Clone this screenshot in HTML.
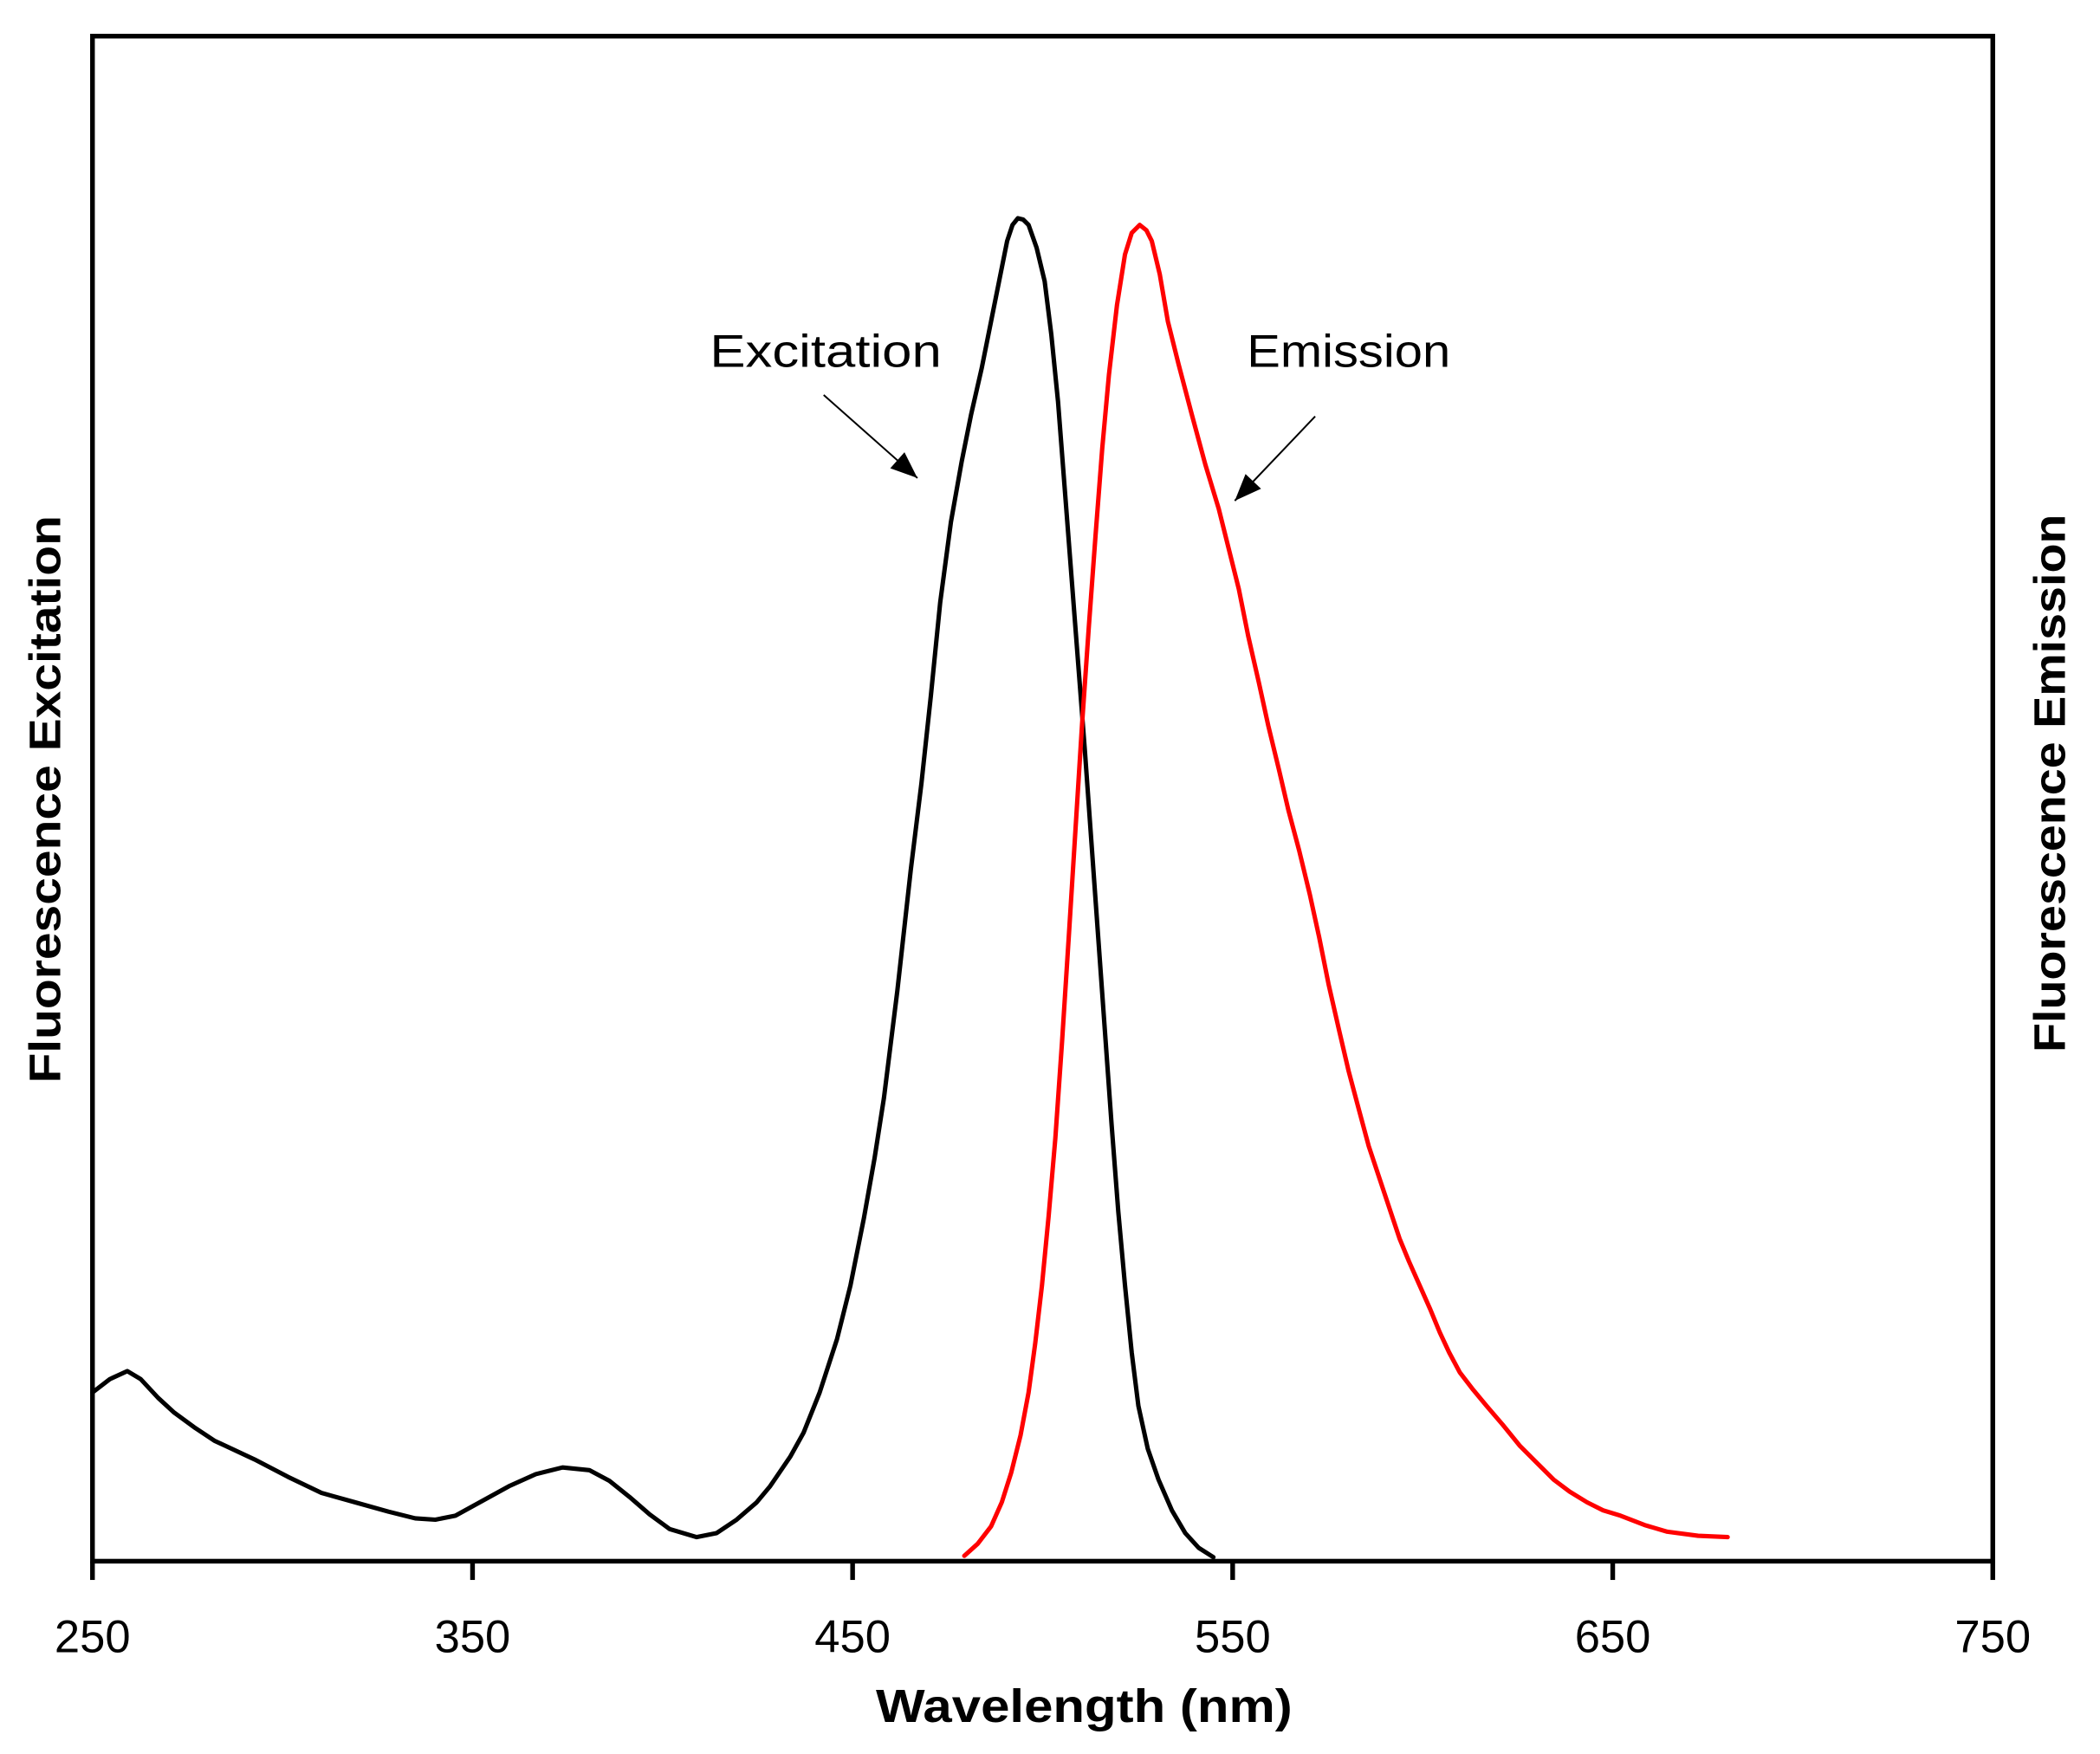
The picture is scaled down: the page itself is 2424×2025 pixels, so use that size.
<!DOCTYPE html>
<html><head><meta charset="utf-8"><style>html,body{margin:0;padding:0;background:#fff}svg{display:block}</style></head><body>
<svg width="2424" height="2025" viewBox="0 0 1568 1310" xmlns="http://www.w3.org/2000/svg" font-family="Liberation Sans, sans-serif">
<defs>
<marker id="ah2" viewBox="0 0 10 10" refX="10" refY="5" markerWidth="28" markerHeight="20" markerUnits="userSpaceOnUse" orient="auto"><path d="M0,1 L10,5 L0,9 z" fill="#000"/></marker></defs>
<rect x="69" y="27" width="1419" height="1139" fill="none" stroke="#000" stroke-width="3.5"/>
<g stroke="#000" stroke-width="3.5">
<line x1="69" y1="1166" x2="69" y2="1180"/><line x1="352.8" y1="1166" x2="352.8" y2="1180"/><line x1="636.6" y1="1166" x2="636.6" y2="1180"/><line x1="920.4" y1="1166" x2="920.4" y2="1180"/><line x1="1204.2" y1="1166" x2="1204.2" y2="1180"/><line x1="1488" y1="1166" x2="1488" y2="1180"/>
</g>
<g font-size="34" text-anchor="middle" fill="#000">
<text x="69" y="1234">250</text><text x="352.8" y="1234">350</text><text x="636.6" y="1234">450</text><text x="920.4" y="1234">550</text><text x="1204.2" y="1234">650</text><text x="1488" y="1234">750</text>
</g>
<text x="654" y="1286" font-size="35" font-weight="bold" textLength="311" lengthAdjust="spacingAndGlyphs">Wavelength (nm)</text>
<text transform="translate(45,597) rotate(-90)" x="-212" y="0" font-size="33" font-weight="bold" textLength="424" lengthAdjust="spacingAndGlyphs">Fluorescence Excitation</text>
<text transform="translate(1542,585) rotate(-90)" x="-201" y="0" font-size="33" font-weight="bold" textLength="402" lengthAdjust="spacingAndGlyphs">Fluorescence Emission</text>
<polyline fill="none" stroke="#000" stroke-width="3.3" stroke-linejoin="round" stroke-linecap="round" points="69,1040 82,1030 95,1024 105,1030 118,1044 130,1055 145,1066 160,1076 190,1090 215,1103 240,1115 265,1122 290,1129 310,1134 325,1135 340,1132 360,1121 380,1110 400,1101 420,1096 440,1098 455,1106 470,1118 485,1131 500,1142 520,1148 535,1145 550,1135 565,1122 575,1110 590,1088 600,1070 612,1040 625,1000 635,960 645,910 653,865 660,820 670,740 680,650 688,585 695,520 702,450 710,390 718,345 725,310 733,275 740,240 746,210 752,180 756,168 760,163 764,164 768,168 774,185 780,210 785,250 790,300 795,365 800,430 805,495 810,560 815,630 820,700 825,770 830,840 835,905 840,960 845,1010 850,1050 857,1082 865,1105 875,1128 885,1145 895,1156 906,1163"/>
<polyline fill="none" stroke="#f00" stroke-width="3.3" stroke-linejoin="round" stroke-linecap="round" points="720,1162 730,1153 740,1140 748,1122 755,1100 762,1072 768,1040 773,1003 778,960 783,908 788,850 793,778 798,700 803,620 808,540 813,468 818,400 823,335 828,280 834,228 840,190 845,174 851,168 856,172 860,180 866,205 872,240 880,272 890,310 900,347 910,380 918,412 925,440 932,475 940,510 947,542 955,575 962,605 970,635 978,668 985,700 992,735 1000,770 1007,800 1015,830 1022,856 1030,880 1038,904 1045,925 1052,942 1060,960 1068,978 1075,995 1082,1010 1090,1025 1100,1038 1110,1050 1122,1064 1135,1080 1148,1093 1160,1105 1172,1114 1185,1122 1197,1128 1210,1132 1228,1139 1245,1144 1268,1147 1290,1148"/>
<text x="530" y="274" font-size="34" textLength="173" lengthAdjust="spacingAndGlyphs">Excitation</text>
<text x="931" y="274" font-size="34" textLength="152" lengthAdjust="spacingAndGlyphs">Emission</text>
<line x1="615" y1="295" x2="685" y2="357" stroke="#000" stroke-width="1.3" marker-end="url(#ah2)"/>
<line x1="982" y1="311" x2="922" y2="374" stroke="#000" stroke-width="1.3" marker-end="url(#ah2)"/>
</svg>
</body></html>
